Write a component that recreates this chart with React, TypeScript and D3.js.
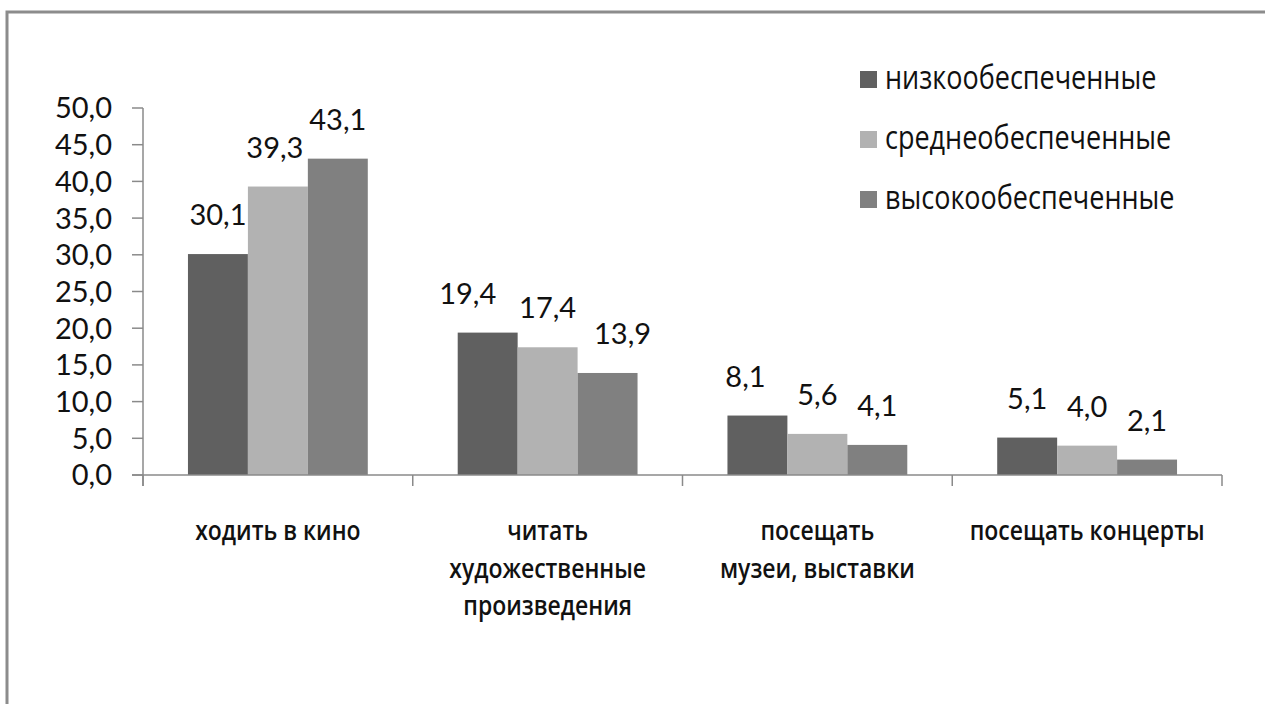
import React from 'react';
import * as d3 from 'd3';

const categories = [
  'ходить в кино',
  'читать\nхудожественные\nпроизведения',
  'посещать\nмузеи, выставки',
  'посещать концерты',
];
const seriesNames = ['низкообеспеченные', 'среднеобеспеченные', 'высокообеспеченные'];
const lowIncome = [30.1, 19.4, 8.1, 5.1];
const midIncome = [39.3, 17.4, 5.6, 4.0];
const highIncome = [43.1, 13.9, 4.1, 2.1];
const yTicks = [0, 5, 10, 15, 20, 25, 30, 35, 40, 45, 50];

// layout / style constants
const W = 1265;
const H = 704;
const colors = ['#606060', '#b2b2b2', '#808080'];
const axisColor = '#8a8a8a';
const FONT = '"Open Sans", "Noto Sans", sans-serif';
const NUM_FONT = 'Lato, "Open Sans", sans-serif';
// manual horizontal nudges of value labels (group, series)
const labelNudge = [
  [0, -3, 0],
  [-20, 0, 15],
  [-12, 0, 0],
  [0, 0, 0],
];

const fmt = (v: number) => v.toFixed(1).replace('.', ',');

export default function App() {
  const seriesValues = [lowIncome, midIncome, highIncome];
  const x = d3.scaleBand<string>().domain(categories).range([143, 1222]).paddingInner(0).paddingOuter(0);
  const xs = d3
    .scaleBand<string>()
    .domain(seriesNames)
    .range([0, x.bandwidth()])
    .paddingInner(0)
    .paddingOuter(0.75);
  const y = d3.scaleLinear().domain([0, 50]).range([475, 108]);
  const y0 = y(0);
  const boundaries = [...categories.map((c) => x(c) as number), x.range()[1]];

  return (
    <svg
      width={W}
      height={H}
      style={{ position: 'absolute', left: 0, top: 0, display: 'block', background: '#fff' }}
      fontFamily={FONT}
    >
      <rect x={0} y={0} width={W} height={H} fill="#fff" />
      {/* frame */}
      <path d={`M7,${H + 5} V12 H${W + 5}`} fill="none" stroke="#8c8c8c" strokeWidth={3} />

      {/* bars */}
      {categories.map((c, ci) =>
        seriesNames.map((s, si) => {
          const v = seriesValues[si][ci];
          const bx = (x(c) as number) + (xs(s) as number);
          return (
            <rect
              key={`${ci}-${si}`}
              x={bx}
              y={y(v)}
              width={xs.bandwidth()}
              height={y0 - y(v)}
              fill={colors[si]}
            />
          );
        })
      )}

      {/* axes */}
      <line x1={143} x2={143} y1={y(50)} y2={y0 + 11} stroke={axisColor} strokeWidth={1.5} />
      <line x1={132} x2={x.range()[1]} y1={y0} y2={y0} stroke={axisColor} strokeWidth={1.5} />
      {yTicks.map((t) => (
        <g key={t}>
          <line x1={132} x2={143} y1={y(t)} y2={y(t)} stroke={axisColor} strokeWidth={1.5} />
          <text
            x={112}
            y={y(t)}
            dy="0.36em"
            textAnchor="end"
            fontSize={29}
            fontFamily={NUM_FONT}
            fill="#111"
          >
            {fmt(t)}
          </text>
        </g>
      ))}
      {boundaries.map((b, i) => (
        <line key={i} x1={b} x2={b} y1={y0} y2={y0 + 11} stroke={axisColor} strokeWidth={1.5} />
      ))}

      {/* value labels */}
      {categories.map((c, ci) =>
        seriesNames.map((s, si) => {
          const v = seriesValues[si][ci];
          const cx = (x(c) as number) + (xs(s) as number) + xs.bandwidth() / 2 + labelNudge[ci][si];
          return (
            <text
              key={`l${ci}-${si}`}
              x={cx}
              y={y(v) - 29}
              textAnchor="middle"
              fontSize={29}
              fontFamily={NUM_FONT}
              fill="#111"
            >
              {fmt(v)}
            </text>
          );
        })
      )}

      {/* category labels */}
      {categories.map((c) => {
        const cx = (x(c) as number) + x.bandwidth() / 2;
        return (
          <g key={c}>
            {c.split('\n').map((line, li) => (
              <text
                key={li}
                transform={`translate(${cx}, ${540 + li * 37.5}) scale(1, 1.15)`}
                textAnchor="middle"
                fontSize={23}
                fontWeight={600}
                fill="#111"
              >
                {line}
              </text>
            ))}
          </g>
        );
      })}

      {/* legend */}
      {seriesNames.map((s, i) => (
        <g key={s} transform={`translate(860, ${89 + i * 60})`}>
          <rect x={0} y={-18} width={17} height={17} fill={colors[i]} />
          <text transform="translate(25, 0) scale(1, 1.2)" fontSize={27} fontWeight={500} fill="#111">
            {s}
          </text>
        </g>
      ))}
    </svg>
  );
}
